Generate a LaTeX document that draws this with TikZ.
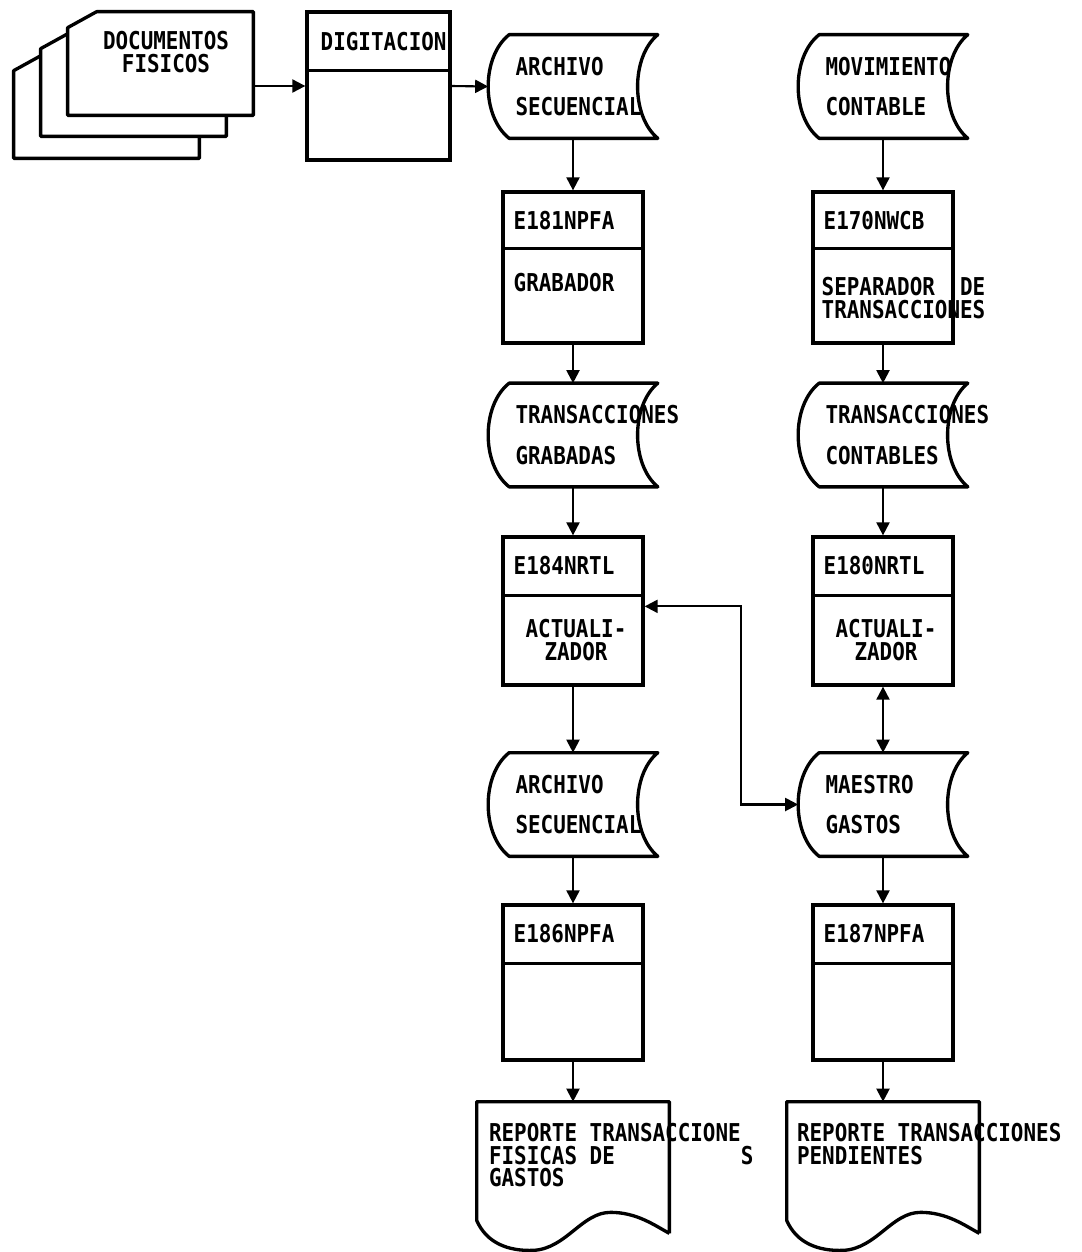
\documentclass[tikz,border=0pt]{standalone}
\usepackage{fontspec}
\usepackage{tikz}
\usetikzlibrary{arrows.meta,calc}
\newfontfamily\plotfont[FakeStretch=0.85]{DejaVu Sans Mono}

% outline of a stored-data symbol round a node
\newcommand{\storeoutline}[1]{%
\draw[line] ($(#1.north west)+(21,0)$) -- (#1.north east)
  .. controls ($(#1.north east)+(-27,-22)$) and ($(#1.south east)+(-27,22)$) .. (#1.south east)
  -- ($(#1.south west)+(21,0)$)
  .. controls ($(#1.south west)+(-7,22)$) and ($(#1.north west)+(-7,-22)$) .. ($(#1.north west)+(21,0)$)
  -- cycle;}
% outline of a printed report
\newcommand{\reportoutline}[1]{%
\draw[line] (#1.south east) -- (#1.north east) -- (#1.north west) -- ($(#1.south west)+(0,13)$)
  .. controls ($(#1.south west)+(10,-10)$) and ($(#1.south west)+(32,-18)$) .. ($(#1.south west)+(57,-17)$)
  .. controls ($(#1.south west)+(90,-15)$) and ($(#1.south west)+(105,21)$) .. ($(#1.south west)+(134,21)$)
  .. controls ($(#1.south west)+(160,21)$) and ($(#1.south west)+(178,8)$) .. (#1.south east);}
% one sheet of the document stack, shifted by (#2,#3)
\newcommand{\docsheet}[3]{%
\draw[line, fill=white] ($(#1.north west)+(#2,#3-16)$) -- ($(#1.north west)+(#2+29,#3)$)
  -- ($(#1.north east)+(#2,#3)$) -- ($(#1.south east)+(#2,#3)$) -- ($(#1.south west)+(#2,#3)$) -- cycle;}

\begin{document}
\begin{tikzpicture}[
x=0.02cm, y=0.02cm,
line/.style={line width=1.9pt, line join=round},
arrow/.style={-{Triangle[length=2.6mm,width=2.6mm]}, line width=1.2pt},
dblarrow/.style={{Triangle[length=2.6mm,width=2.6mm]}-{Triangle[length=2.6mm,width=2.6mm]}, line width=1.2pt},
txt/.style={font=\plotfont\bfseries\fontsize{14}{13}\selectfont, inner sep=0pt, align=left},
store/.style={minimum width=3.38cm, minimum height=2.06cm, text width=2.3cm, inner xsep=0.54cm,
inner ysep=0pt, align=left, font=\plotfont\bfseries\fontsize{14}{23.2}\selectfont},
procbox/.style={draw, line width=1.9pt, minimum width=2.8cm},
report/.style={minimum width=3.84cm, minimum height=2.62cm}
]
\useasboundingbox[fill=white] (0,0) rectangle (1082,-1252);

% documents and input
\node[minimum width=3.7cm, minimum height=2.06cm] (docs) at (160.5,-63.5) {};
\docsheet{docs}{-54}{-43}
\docsheet{docs}{-27}{-21}
\docsheet{docs}{0}{0}
\node[txt, align=center] (docs-t) at (166,-52) {DOCUMENTOS\\FISICOS};

\node[procbox, minimum width=2.86cm, minimum height=2.96cm] (digit) at (378.5,-86) {};
\draw[line] ($(digit.north west)+(0,-60)$) -- ($(digit.north east)+(0,-60)$);
\node[txt, anchor=west] (digit-c) at ($(digit.north west)+(15,-31)$) {DIGITACION};

% left column
\node[store] (seq1) at (573,-86.5) {ARCHIVO\\SECUENCIAL};
\storeoutline{seq1}

\node[procbox, minimum height=3.02cm] (e181) at (573,-267.5) {};
\draw[line] ($(e181.north west)+(0,-58)$) -- ($(e181.north east)+(0,-58)$);
\node[txt, anchor=west] (e181-c) at ($(e181.north west)+(12,-30)$) {E181NPFA};
\node[txt, anchor=west] (e181-l) at ($(e181.north west)+(12,-92)$) {GRABADOR};

\node[store] (tgrab) at (573,-435) {TRANSACCIONES\\GRABADAS};
\storeoutline{tgrab}

\node[procbox, minimum height=2.96cm] (e184) at (573,-611) {};
\draw[line] ($(e184.north west)+(0,-60)$) -- ($(e184.north east)+(0,-60)$);
\node[txt, anchor=west] (e184-c) at ($(e184.north west)+(12,-30)$) {E184NRTL};
\node[txt, align=center] (e184-l) at ($(e184.north)+(3,-105)$) {ACTUALI-\\ZADOR};

\node[store] (seq2) at (573,-804.5) {ARCHIVO\\SECUENCIAL};
\storeoutline{seq2}

\node[procbox, minimum height=3.1cm] (e186) at (573,-982.5) {};
\draw[line] ($(e186.north west)+(0,-60)$) -- ($(e186.north east)+(0,-60)$);
\node[txt, anchor=west] (e186-c) at ($(e186.north west)+(12,-30)$) {E186NPFA};

\node[report] (rep1) at (573,-1167.5) {};
\reportoutline{rep1}
\node[txt, anchor=north west] (rep1-t) at ($(rep1.north west)+(12,-21)$)
{REPORTE TRANSACCIONE\\FISICAS DE\hphantom{0000000000}S\\GASTOS};

% right column
\node[store] (mov) at (883,-86.5) {MOVIMIENTO\\CONTABLE};
\storeoutline{mov}

\node[procbox, minimum height=3.02cm] (e170) at (883,-267.5) {};
\draw[line] ($(e170.north west)+(0,-58)$) -- ($(e170.north east)+(0,-58)$);
\node[txt, anchor=west] (e170-c) at ($(e170.north west)+(12,-30)$) {E170NWCB};
\node[txt, anchor=west] (e170-l) at ($(e170.north west)+(10,-108)$) {SEPARADOR\hphantom{00}DE\\TRANSACCIONES};

\node[store] (tcont) at (883,-435) {TRANSACCIONES\\CONTABLES};
\storeoutline{tcont}

\node[procbox, minimum height=2.96cm] (e180) at (883,-611) {};
\draw[line] ($(e180.north west)+(0,-60)$) -- ($(e180.north east)+(0,-60)$);
\node[txt, anchor=west] (e180-c) at ($(e180.north west)+(12,-30)$) {E180NRTL};
\node[txt, align=center] (e180-l) at ($(e180.north)+(3,-105)$) {ACTUALI-\\ZADOR};

\node[store] (mgas) at (883,-804.5) {MAESTRO\\GASTOS};
\storeoutline{mgas}

\node[procbox, minimum height=3.1cm] (e187) at (883,-982.5) {};
\draw[line] ($(e187.north west)+(0,-60)$) -- ($(e187.north east)+(0,-60)$);
\node[txt, anchor=west] (e187-c) at ($(e187.north west)+(12,-30)$) {E187NPFA};

\node[report] (rep2) at (883,-1167.5) {};
\reportoutline{rep2}
\node[txt, anchor=north west] (rep2-t) at ($(rep2.north west)+(10,-21)$)
{REPORTE TRANSACCIONES\\PENDIENTES};

% connectors
\draw[arrow] (docs.east |- digit.west) -- (digit.west);
\draw[arrow] (digit.east) -- (seq1.west);
\draw[arrow] (seq1.south) -- (e181.north);
\draw[arrow] (e181.south) -- (tgrab.north);
\draw[arrow] (tgrab.south) -- (e184.north);
\draw[arrow] (e184.south) -- (seq2.north);
\draw[arrow] (seq2.south) -- (e186.north);
\draw[arrow] (e186.south) -- (rep1.north);

\draw[arrow] (mov.south) -- (e170.north);
\draw[arrow] (e170.south) -- (tcont.north);
\draw[arrow] (tcont.south) -- (e180.north);
\draw[dblarrow] (e180.south) -- (mgas.north);
\draw[arrow] (mgas.south) -- (e187.north);
\draw[arrow] (e187.south) -- (rep2.north);

\draw[dblarrow] ($(e184.north east)+(0,-71)$) -| ($(mgas.west)+(-57,0)$) -- (mgas.west);

\end{tikzpicture}
\end{document}
